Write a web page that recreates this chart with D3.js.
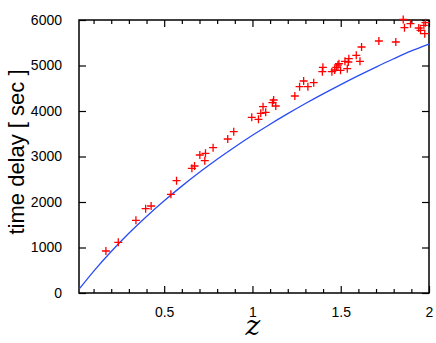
<!DOCTYPE html>
<html><head><meta charset="utf-8">
<script src="https://cdn.jsdelivr.net/npm/d3@7"></script>
<style>body{margin:0;background:#fff}svg{display:block}</style>
</head><body>
<svg id="c" width="436" height="343"></svg>
<script>
// measured data points (redshift z, time delay in sec)
const pointZ = [0.170,0.240,0.340,0.395,0.426,0.538,0.570,0.657,0.672,0.702,0.734,0.730,0.777,0.860,0.894,
  0.996,1.034,1.047,1.060,1.075,1.113,1.120,1.132,1.240,1.267,1.290,1.314,1.347,1.396,1.399,1.450,1.466,
  1.475,1.484,1.499,1.524,1.537,1.543,1.546,1.588,1.609,1.618,1.716,1.812,1.854,1.861,1.895,1.942,1.952,
  1.971,1.976,1.980,1.490];
const pointT = [923,1114,1598,1853,1912,2169,2468,2741,2791,3033,3070,2908,3193,3385,3545,
  3862,3818,3949,4095,3971,4182,4242,4110,4330,4534,4659,4534,4622,4864,4960,4864,4901,
  4960,5011,4894,5092,4930,5077,5150,5224,5092,5407,5538,5516,6011,5831,5919,5824,5774,
  5883,5699,5941,5040];
// model curve
const curveZ = [0.02,0.1,0.2,0.3,0.4,0.5,0.6,0.7,0.8,0.9,1.0,1.1,1.2,1.3,1.4,1.5,1.6,1.7,1.8,1.9,2.0];
const curveT = [95,477,912,1312,1682,2027,2349,2653,2939,3209,3466,3710,3942,4165,4377,4581,4778,4966,5148,5320,5470];
const xTicks = [0.5,1,1.5,2];
const xTickLabels = ["0.5","1","1.5","2"];
const xMinor = [0.1,0.2,0.3,0.4,0.6,0.7,0.8,0.9,1.1,1.2,1.3,1.4,1.6,1.7,1.8,1.9];
const yTicks = [0,1000,2000,3000,4000,5000,6000];

const svg = d3.select("#c");
const L=79, R=429, T=20, B=293;
const x = d3.scaleLinear().domain([0.0175,2]).range([L,R]);
const y = d3.scaleLinear().domain([0,6000]).range([B,T]);
const font = "'Liberation Sans', Arial, Helvetica, sans-serif";

// axes with inward ticks
const gx = svg.append("g").attr("transform",`translate(0,${B})`)
  .call(d3.axisBottom(x).tickValues(xTicks).tickSize(-7).tickPadding(14).tickFormat((d,i)=>xTickLabels[i]));
const gxm = svg.append("g").attr("transform",`translate(0,${B})`)
  .call(d3.axisBottom(x).tickValues(xMinor).tickSize(-4).tickFormat(""));
const gxt = svg.append("g").attr("transform",`translate(0,${T})`)
  .call(d3.axisTop(x).tickValues(xTicks).tickSize(-7).tickFormat(""));
const gxtm = svg.append("g").attr("transform",`translate(0,${T})`)
  .call(d3.axisTop(x).tickValues(xMinor).tickSize(-4).tickFormat(""));
const gy = svg.append("g").attr("transform",`translate(${L},0)`)
  .call(d3.axisLeft(y).tickValues(yTicks).tickSize(-7).tickPadding(17).tickFormat(d3.format("d")));
const gyr = svg.append("g").attr("transform",`translate(${R},0)`)
  .call(d3.axisRight(y).tickValues(yTicks).tickSize(-7).tickFormat(""));
[gx,gxm,gxt,gxtm,gy,gyr].forEach(g=>{
  g.select(".domain").remove();
  g.selectAll(".tick line").attr("stroke","#000").attr("stroke-width",1.2);
  g.selectAll("text").attr("font-family",font).attr("font-size",14).attr("fill","#000");
});

// frame
svg.append("rect").attr("x",L).attr("y",T).attr("width",R-L).attr("height",B-T)
  .attr("fill","none").attr("stroke","#000").attr("stroke-width",1.5);

// curve
const line = d3.line().x((d,i)=>x(curveZ[i])).y(d=>y(d)).curve(d3.curveMonotoneX);
svg.append("path").attr("d",line(curveT)).attr("fill","none")
  .attr("stroke","#2a4cf5").attr("stroke-width",1.3);

// points
const s=4;
const pts = svg.append("g").attr("stroke","#ff0000").attr("stroke-width",1.3);
pointZ.forEach((z,i)=>{
  const px=x(z), py=y(pointT[i]);
  pts.append("path").attr("d",`M${px-s},${py}H${px+s}M${px},${py-s}V${py+s}`);
});

// labels
svg.append("text").attr("transform","translate(24,152) rotate(-90)")
  .attr("text-anchor","middle").attr("font-family",font).attr("font-size",22)
  .text("time delay [ sec ]");
svg.append("text").attr("x",253).attr("y",335).attr("text-anchor","middle")
  .attr("font-family","'DejaVu Serif','Liberation Serif',serif").attr("font-style","italic")
  .attr("font-size",28).text("z");
</script>
</body></html>
